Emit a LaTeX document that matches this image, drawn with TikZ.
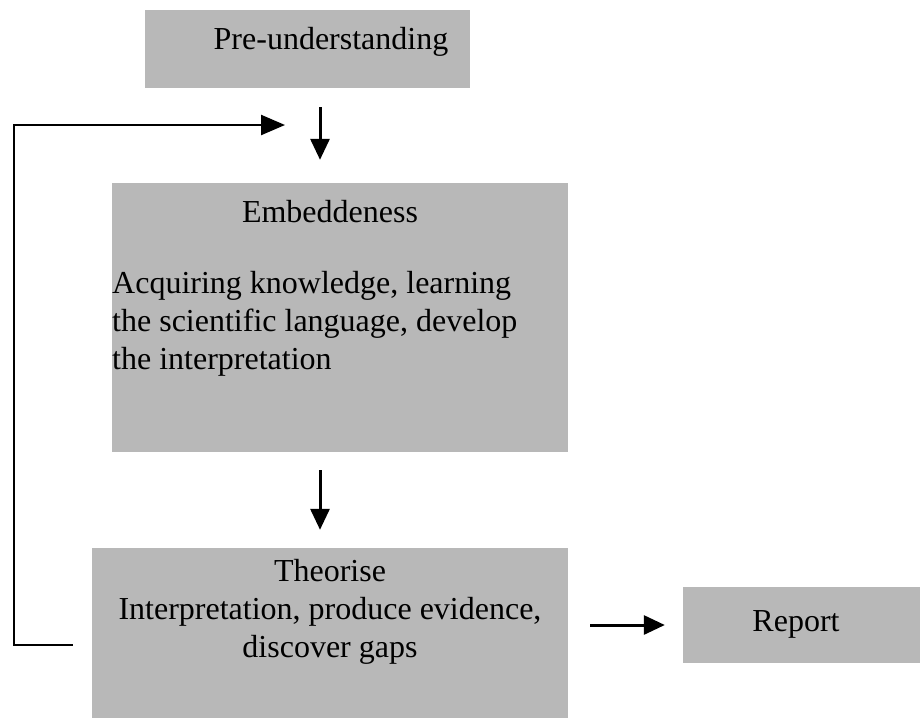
\documentclass[tikz,border=0pt]{standalone}
\usepackage{fontspec}
\setmainfont{Liberation Serif}
\usetikzlibrary{arrows.meta}
\begin{document}
\begin{tikzpicture}[x=1pt,y=-1pt,
  box/.style={fill=black!28, draw=none, inner sep=0pt},
  txt/.style={inner sep=0pt, font=\fontsize{32}{38}\selectfont},
  arr/.style={line width=3pt, -{Triangle[length=21pt,width=19pt]}},
  fbline/.style={line width=2.4pt, -{Triangle[length=24pt,width=20pt]}}]
\useasboundingbox (0,0) rectangle (920,718);
% boxes
\node[box, minimum width=325pt, minimum height=78pt] (pre) at (307.5,49) {};
\node[box, minimum width=456pt, minimum height=269pt] (emb) at (340,317.5) {};
\node[box, minimum width=476pt, minimum height=170pt] (theo) at (330,633) {};
\node[box, minimum width=237pt, minimum height=76pt] (rep) at (801.5,625) {};
% texts
\node[txt] (pret) at (331,42) {Pre-understanding};
\node[txt] (embt) at (330,212) {Embeddeness};
\node[txt, anchor=west, align=left] (embb) at (112,324) {Acquiring knowledge, learning\\the scientific language, develop\\the interpretation};
\node[txt, align=center] (theot) at (330,612) {Theorise\\Interpretation, produce evidence,\\discover gaps};
\node[txt] (rept) at (796,624) {Report};
% connectors
\coordinate (c1) at (320,0);
\draw[arr] ([yshift=-19pt]pre.south -| c1) -- ([yshift=23pt]emb.north -| c1);
\draw[arr] ([yshift=-18pt]emb.south -| c1) -- ([yshift=18pt]theo.north -| c1);
\draw[arr] ([xshift=22pt]theo.east |- rep.west) -- ([xshift=-18pt]rep.west);
\coordinate (fbend) at (285,125);
\draw[fbline] ([xshift=-19pt]theo.west |- 0,645) -| (14,125) -- (fbend);
\end{tikzpicture}
\end{document}
